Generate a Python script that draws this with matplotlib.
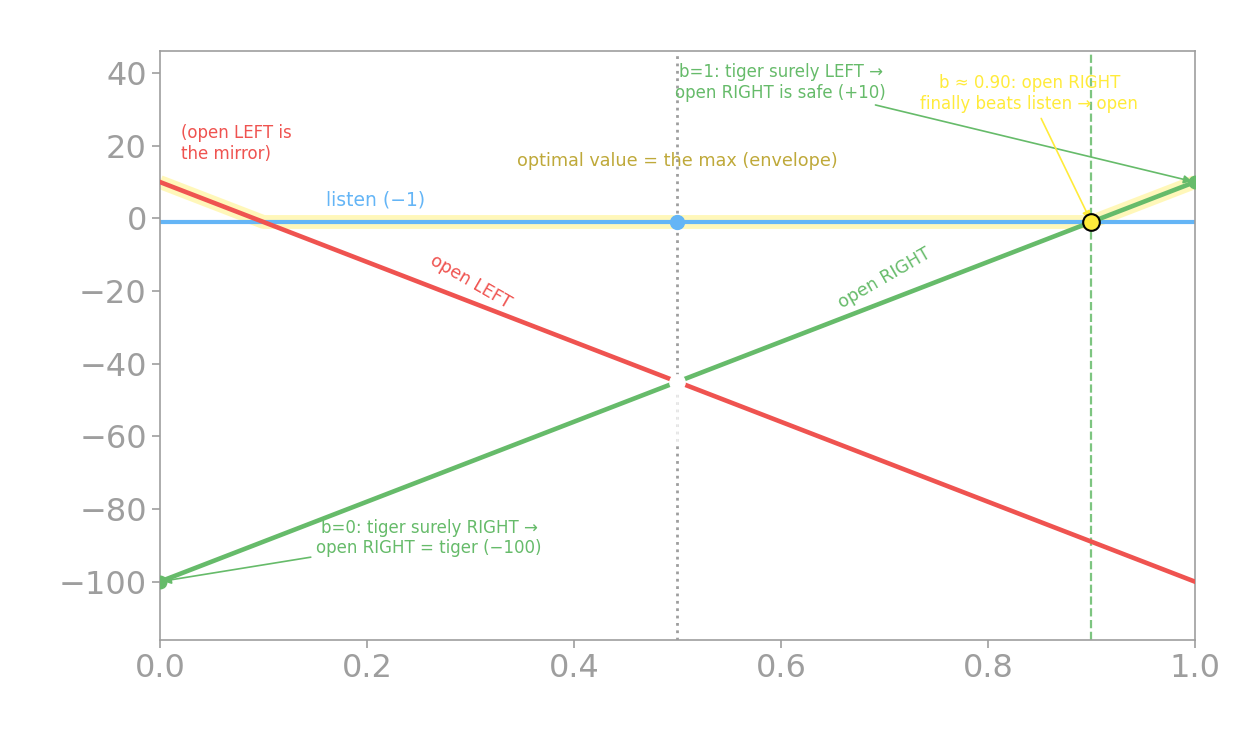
import numpy as np
import matplotlib
matplotlib.use('Agg')
import matplotlib.pyplot as plt

# belief b = P(tiger LEFT)
b = np.array([0.0, 1.0])
open_left = np.array([10.0, -100.0])
open_right = np.array([-100.0, 10.0])
listen_val = -1.0

b_env = np.array([0.0, 0.1, 0.9, 1.0])
env_val = np.array([10.0, -1.0, -1.0, 10.0])

b_cross = 0.9
b_mid = 0.5
mid_val = -45.0

red = '#EF5350'
green = '#66BB6A'
blue = '#64B5F6'
gray = '#9E9E9E'

fig = plt.figure(figsize=(12.42, 7.43), dpi=100)
ax = fig.add_axes([0.1288, 0.139, 0.8332, 0.792])

ax.plot(b_env, env_val, color='#FFF59D', lw=10, alpha=0.7, solid_capstyle='butt', zorder=1)
ax.plot(b, open_left, color=red, lw=3.3, zorder=3)
ax.plot(b, open_right, color=green, lw=3.3, zorder=3)
ax.axhline(listen_val, color=blue, lw=3, zorder=2)

ax.axvline(b_mid, color=gray, lw=2, ls=':', zorder=2)
ax.axvline(b_cross, color=green, lw=1.6, ls='--', alpha=0.85, zorder=2)

ax.plot([b_mid, b_mid], [mid_val - 1, mid_val - 17], color='white', lw=2, alpha=0.8, zorder=2.5)
ax.plot(b_mid, mid_val, 'o', color='white', ms=11, zorder=4)
ax.plot(b_mid, listen_val, 'o', color=blue, ms=10, zorder=4)
ax.plot(b, open_right, 'o', color=green, ms=9, zorder=4)
ax.plot(b_cross, listen_val, 'o', color='#FFEB3B', mec='black', mew=1.5, ms=12, zorder=5)

ax.text(0.02, 20.5, '(open LEFT is\nthe mirror)', color=red, fontsize=12, ha='left', va='center')
ax.text(0.16, 5, 'listen (\u22121)', color=blue, fontsize=13.5, ha='left', va='center')
ax.text(0.5, 15.7, 'optimal value = the max (envelope)', color='#BFA93A', fontsize=12.7,
        ha='center', va='center')
ax.text(0.30, -17.5, 'open LEFT', color=red, fontsize=12.5, rotation=-30, ha='center', va='center')
ax.text(0.70, -16.5, 'open RIGHT', color=green, fontsize=12.5, rotation=30, ha='center', va='center')

ax.annotate('b=1: tiger surely LEFT \u2192\nopen RIGHT is safe (+10)', xy=(1.0, 10.0),
            xytext=(0.6, 37.5), color=green, fontsize=12, ha='center', va='center',
            arrowprops=dict(arrowstyle='-|>', color=green, lw=1.2))
ax.annotate('b=0: tiger surely RIGHT \u2192\nopen RIGHT = tiger (\u2212100)', xy=(0.0, -100.0),
            xytext=(0.26, -88), color=green, fontsize=12, ha='center', va='center',
            arrowprops=dict(arrowstyle='-|>', color=green, lw=1.2))
ax.annotate('b \u2248 0.90: open RIGHT\nfinally beats listen \u2192 open', xy=(b_cross, listen_val),
            xytext=(0.84, 34.3), color='#FFEB3B', fontsize=12, ha='center', va='center',
            arrowprops=dict(arrowstyle='-|>', color='#FFEB3B', lw=1.2))

ax.set_xlim(0, 1)
ax.set_ylim(-116, 46)
ax.set_yticks([-100, -80, -60, -40, -20, 0, 20, 40])
for s in ax.spines.values():
    s.set_color(gray)
    s.set_linewidth(1.2)
ax.tick_params(axis='both', colors=gray, labelsize=23, length=6, width=1.2)

fig.savefig('out.png', dpi=100)
